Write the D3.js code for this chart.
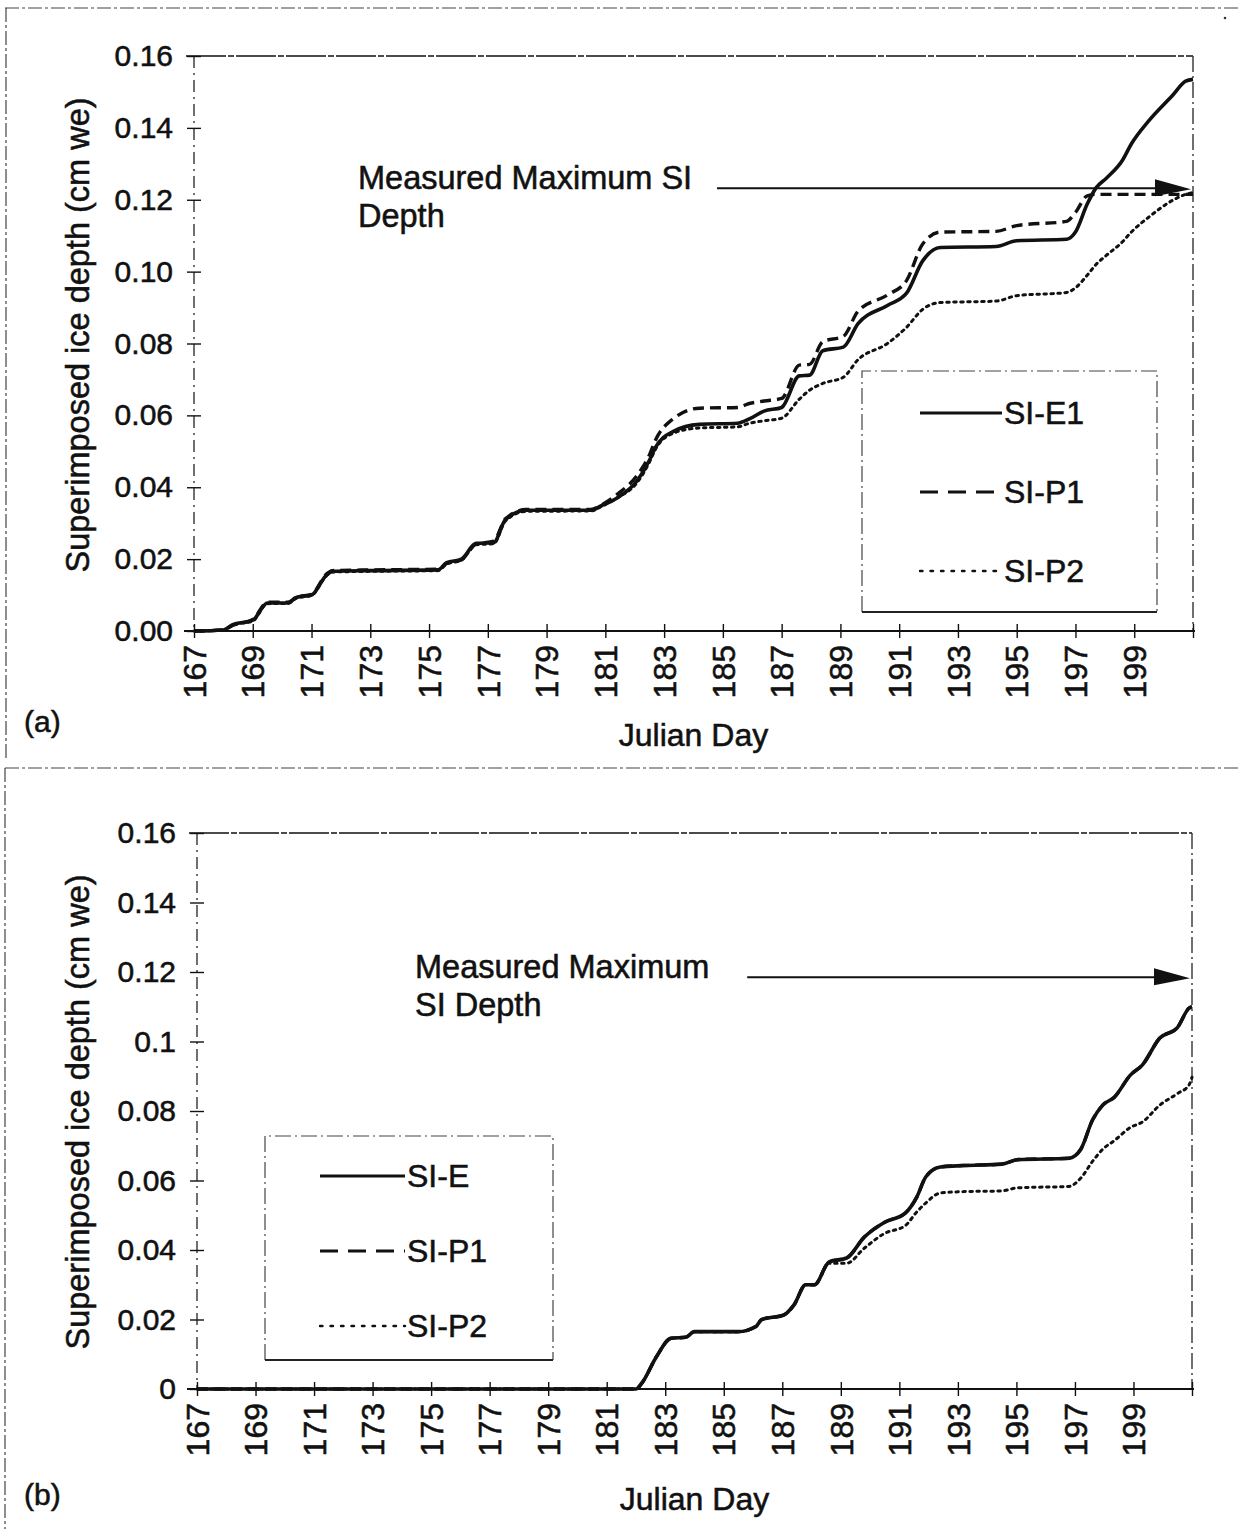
<!DOCTYPE html>
<html><head><meta charset="utf-8">
<script src="https://cdn.jsdelivr.net/npm/d3@7"></script>
<style>
html,body{margin:0;padding:0;background:#fff;}
svg{display:block;font-family:"Liberation Sans",Arial,sans-serif;}
svg text{stroke:#111;stroke-width:0.55px;}
</style></head>
<body>
<svg id="chart" width="1241" height="1529"></svg>
<script>
// ---------- DATA ----------
const xTickDays = [167,169,171,173,175,177,179,181,183,185,187,189,191,193,195,197,199];
const yTicksA = [0,0.02,0.04,0.06,0.08,0.10,0.12,0.14,0.16];
const yTickLabelsA = ["0.00","0.02","0.04","0.06","0.08","0.10","0.12","0.14","0.16"];
const yTicksB = [0,0.02,0.04,0.06,0.08,0.1,0.12,0.14,0.16];
const yTickLabelsB = ["0","0.02","0.04","0.06","0.08","0.1","0.12","0.14","0.16"];

// Panel (a)
const daysA = [167,168,168.3,169,169.5,170.2,170.5,171,171.5,171.7,173,175.3,175.6,176.1,176.6,177.2,177.6,178.3,180.5,180.9,181.4,182.1,182.5,182.7,183.3,184.2,185.5,185.9,186.4,187,187.6,187.95,188.4,189.1,189.6,190.6,191.25,191.8,192.4,194.3,195,196.7,197,197.4,197.7,198.05,198.6,198.9,199.5,200.3,200.75,201];
const siE1 = [0,0.0003,0.0017,0.003,0.0078,0.0078,0.0094,0.010,0.0155,0.0166,0.0168,0.0170,0.019,0.020,0.0244,0.0246,0.031,0.0336,0.0336,0.035,0.037,0.042,0.0475,0.051,0.0555,0.0575,0.0578,0.059,0.0612,0.0622,0.071,0.0712,0.078,0.079,0.0855,0.0906,0.094,0.103,0.1067,0.107,0.1086,0.109,0.111,0.1188,0.1233,0.126,0.131,0.1355,0.142,0.149,0.153,0.1535];
const siP1a = [0,0.0003,0.0015,0.0032,0.008,0.008,0.0095,0.0102,0.0158,0.0168,0.0170,0.0172,0.0188,0.0198,0.0242,0.0250,0.0312,0.0338,0.0338,0.0352,0.038,0.0435,0.049,0.053,0.059,0.062,0.0622,0.0633,0.064,0.0647,0.074,0.0742,0.0805,0.082,0.089,0.0935,0.0975,0.1077,0.111,0.1112,0.1128,0.114,0.1165,0.1211,0.1215,0.1215,0.1215,0.1215,0.1215,0.1215,0.1215,0.1215];
const siP2a = [0,0.0002,0.0016,0.0028,0.0076,0.0077,0.0092,0.0099,0.0153,0.0164,0.0166,0.0168,0.0186,0.0197,0.0240,0.0243,0.0306,0.0333,0.0334,0.0348,0.037,0.0415,0.047,0.0505,0.055,0.0565,0.0568,0.0578,0.0585,0.0592,0.0645,0.067,0.0689,0.0706,0.0755,0.080,0.0845,0.0895,0.0914,0.0918,0.0933,0.0942,0.0955,0.099,0.102,0.1045,0.1083,0.111,0.1152,0.1198,0.1215,0.122];
const measuredMaxA = 0.1232;
const arrowStartA = 184.8;

// Panel (b)
const daysB = [167,182.0,182.2,182.7,183.2,183.7,184.0,185.5,186.1,186.3,187.05,187.4,187.8,188.1,188.6,189.2,189.8,190.5,191.2,191.6,191.9,192.4,193.2,194.5,195.05,196.8,197.2,197.6,197.95,198.35,198.9,199.3,199.9,200.5,200.9,201];
const siE = [0,0,0.0017,0.0093,0.0146,0.0149,0.0165,0.0165,0.018,0.020,0.0213,0.0242,0.030,0.030,0.0366,0.0377,0.0437,0.048,0.0506,0.0553,0.061,0.0639,0.0643,0.0647,0.066,0.0664,0.069,0.0774,0.0817,0.084,0.0904,0.0932,0.101,0.104,0.1096,0.110];
const siP1b = [0,0,0.0017,0.0093,0.0146,0.0149,0.0165,0.0165,0.018,0.020,0.0213,0.0242,0.030,0.030,0.0366,0.0377,0.0437,0.048,0.0506,0.0553,0.061,0.0639,0.0643,0.0647,0.066,0.0664,0.069,0.0774,0.0817,0.084,0.0904,0.0932,0.101,0.104,0.1096,0.110];
const siP2b = [0,0,0.0017,0.0093,0.0146,0.0149,0.0165,0.0165,0.018,0.020,0.0213,0.0242,0.030,0.030,0.0362,0.0362,0.0405,0.0448,0.047,0.051,0.0535,0.0564,0.0568,0.057,0.0579,0.0583,0.0607,0.0655,0.069,0.0715,0.0753,0.0768,0.0817,0.085,0.0875,0.0897];
const measuredMaxB = 0.1185;
const arrowStartB = 185.8;

const xTitle = "Julian Day";
const yTitle = "Superimposed ice depth (cm we)";
const arrowLabelA = ["Measured Maximum SI","Depth"];
const arrowLabelB = ["Measured Maximum","SI Depth"];
const legendA = ["SI-E1","SI-P1","SI-P2"];
const legendB = ["SI-E","SI-P1","SI-P2"];

// ---------- DRAWING ----------
const svg = d3.select("#chart");
const INK = "#111";
const styles = {
  solid: {w:3.6, dash:null},
  dashed:{w:3.4, dash:"11,6"},
  dotted:{w:3.0, dash:"2.5,4.5"}
};

function frame(x1,y1,x2,y2){
  svg.append("line").attr("x1",x1).attr("y1",y1).attr("x2",x2).attr("y2",y2)
    .attr("stroke","#444").attr("stroke-width",1.2).attr("stroke-dasharray","14,3,3,3");
}
frame(5,8,1241,8); frame(6,8,6,760);
frame(5,768,1241,768); frame(5,768,5,1529);
svg.append("circle").attr("cx",1225).attr("cy",18).attr("r",1.3).attr("fill","#333");

function drawPanel(p){
  const x = d3.scaleLinear().domain([167,201]).range([p.left,p.right]);
  const y = d3.scaleLinear().domain([0,0.16]).range([p.bottom,p.top]);
  const g = svg.append("g");

  g.append("line").attr("x1",p.left-8).attr("x2",p.right).attr("y1",y(0.16)).attr("y2",y(0.16))
    .attr("stroke",INK).attr("stroke-width",1.6).attr("stroke-dasharray","40,2,6,2");
  g.append("line").attr("x1",p.right).attr("x2",p.right).attr("y1",y(0.16)).attr("y2",y(0))
    .attr("stroke","#333").attr("stroke-width",1.4).attr("stroke-dasharray","16,4,2,4");
  g.append("line").attr("x1",p.left).attr("x2",p.left).attr("y1",y(0.16)).attr("y2",y(0))
    .attr("stroke","#333").attr("stroke-width",1.4).attr("stroke-dasharray","12,5,2,5");

  const ya = d3.axisLeft(y).tickValues(p.yTicks).tickFormat((d,i)=>p.yLabels[i]).tickSize(7).tickPadding(14);
  const yg = g.append("g").attr("transform",`translate(${p.left},0)`).call(ya);
  yg.select(".domain").remove();
  yg.selectAll(".tick line").attr("x1",-7).attr("x2",7).attr("stroke",INK).attr("stroke-width",1.4);
  yg.selectAll(".tick text").attr("font-size",30).attr("fill",INK).attr("font-family","Liberation Sans, Arial, sans-serif");

  const xa = d3.axisBottom(x).tickValues(xTickDays.concat([201])).tickFormat(d=> d===201?"":d).tickSize(7);
  const xg = g.append("g").attr("transform",`translate(0,${p.bottom})`).call(xa);
  xg.select(".domain").attr("d",`M${p.left-10},0H${p.right+2}`).attr("stroke",INK).attr("stroke-width",2);
  xg.selectAll(".tick line").attr("y1",-7).attr("y2",7).attr("stroke",INK).attr("stroke-width",1.4);
  xg.selectAll(".tick text").attr("font-size",32).attr("fill",INK)
    .attr("font-family","Liberation Sans, Arial, sans-serif")
    .attr("text-anchor","end").attr("dy","0.35em")
    .attr("transform","translate(0,14) rotate(-90)").attr("x",0).attr("y",0);

  g.append("text").attr("x",(p.left+p.right)/2).attr("y",p.xTitleY).attr("text-anchor","middle")
    .attr("font-size",32).attr("fill",INK).text(xTitle);
  g.append("text").attr("transform",`translate(${p.yTitleX},${p.yTitleCY}) rotate(-90)`)
    .attr("text-anchor","middle").attr("font-size",32.5).attr("fill",INK).text(yTitle);
  g.append("text").attr("x",24).attr("y",p.tagY).attr("font-size",30).attr("fill",INK).text(p.tag);

  const line = d3.line().x(d=>x(d[0])).y(d=>y(d[1])).curve(d3.curveMonotoneX);
  p.series.forEach(s=>{
    const st = styles[s.style];
    g.append("path").datum(p.days.map((d,i)=>[d,s.values[i]]))
      .attr("d",line).attr("fill","none").attr("stroke",INK)
      .attr("stroke-width",st.w).attr("stroke-dasharray",st.dash)
      .attr("stroke-linejoin","round").attr("stroke-linecap",s.style==="dotted"?"round":"butt");
  });

  const ay = y(p.measuredMax);
  g.append("line").attr("x1",x(p.arrowStart)).attr("x2",x(201)-34).attr("y1",ay).attr("y2",ay)
    .attr("stroke",INK).attr("stroke-width",2);
  g.append("path").attr("d",`M${x(201)-38},${ay-9}L${x(201)-2},${ay+1}L${x(201)-38},${ay+8}Z`).attr("fill",INK);
  p.arrowLabel.forEach((t,i)=>{
    g.append("text").attr("x",p.labelX).attr("y",p.labelY+i*38).attr("font-size",32.5).attr("fill",INK).text(t);
  });

  const L = p.legend;
  const lg = g.append("g");
  lg.append("path").attr("d",`M${L.x},${L.y+L.h}V${L.y}H${L.x+L.w}V${L.y+L.h}`)
    .attr("fill","none").attr("stroke","#444").attr("stroke-width",1.2).attr("stroke-dasharray","16,4,2,4");
  lg.append("line").attr("x1",L.x).attr("x2",L.x+L.w).attr("y1",L.y+L.h).attr("y2",L.y+L.h)
    .attr("stroke","#222").attr("stroke-width",1.8);
  p.series.slice().sort((a,b)=>a.order-b.order).forEach((s,i)=>{
    const st = styles[s.style];
    const yy = L.y + L.first + i*L.step;
    lg.append("line").attr("x1",L.x+L.lx1).attr("x2",L.x+L.lx2).attr("y1",yy).attr("y2",yy)
      .attr("stroke",INK).attr("stroke-width",st.w-0.6)
      .attr("stroke-dasharray",s.style==="dashed"?"18,10":(s.style==="dotted"?"2.5,8":null))
      .attr("stroke-linecap",s.style==="dotted"?"round":"butt");
    lg.append("text").attr("x",L.x+L.lx2+2).attr("y",yy+11).attr("font-size",32).attr("fill",INK).text(L.names[i]);
  });
}

drawPanel({
  left:194, right:1193, top:56, bottom:631,
  yTicks:yTicksA, yLabels:yTickLabelsA,
  xTitleY:746, yTitleX:89, yTitleCY:335, tag:"(a)", tagY:732,
  days:daysA,
  series:[
    {values:siP2a, style:"dotted", order:2},
    {values:siP1a, style:"dashed", order:1},
    {values:siE1, style:"solid", order:0}
  ],
  measuredMax:measuredMaxA, arrowStart:arrowStartA,
  arrowLabel:arrowLabelA, labelX:358, labelY:189,
  legend:{x:862,y:371,w:295,h:241,first:42,step:79,lx1:58,lx2:140,names:legendA}
});

drawPanel({
  left:197, right:1192, top:833, bottom:1389,
  yTicks:yTicksB, yLabels:yTickLabelsB,
  xTitleY:1510, yTitleX:89, yTitleCY:1112, tag:"(b)", tagY:1505,
  days:daysB,
  series:[
    {values:siP2b, style:"dotted", order:2},
    {values:siP1b, style:"dashed", order:1},
    {values:siE, style:"solid", order:0}
  ],
  measuredMax:measuredMaxB, arrowStart:arrowStartB,
  arrowLabel:arrowLabelB, labelX:415, labelY:978,
  legend:{x:265,y:1136,w:288,h:224,first:40,step:75,lx1:55,lx2:140,names:legendB}
});
</script>
</body></html>
